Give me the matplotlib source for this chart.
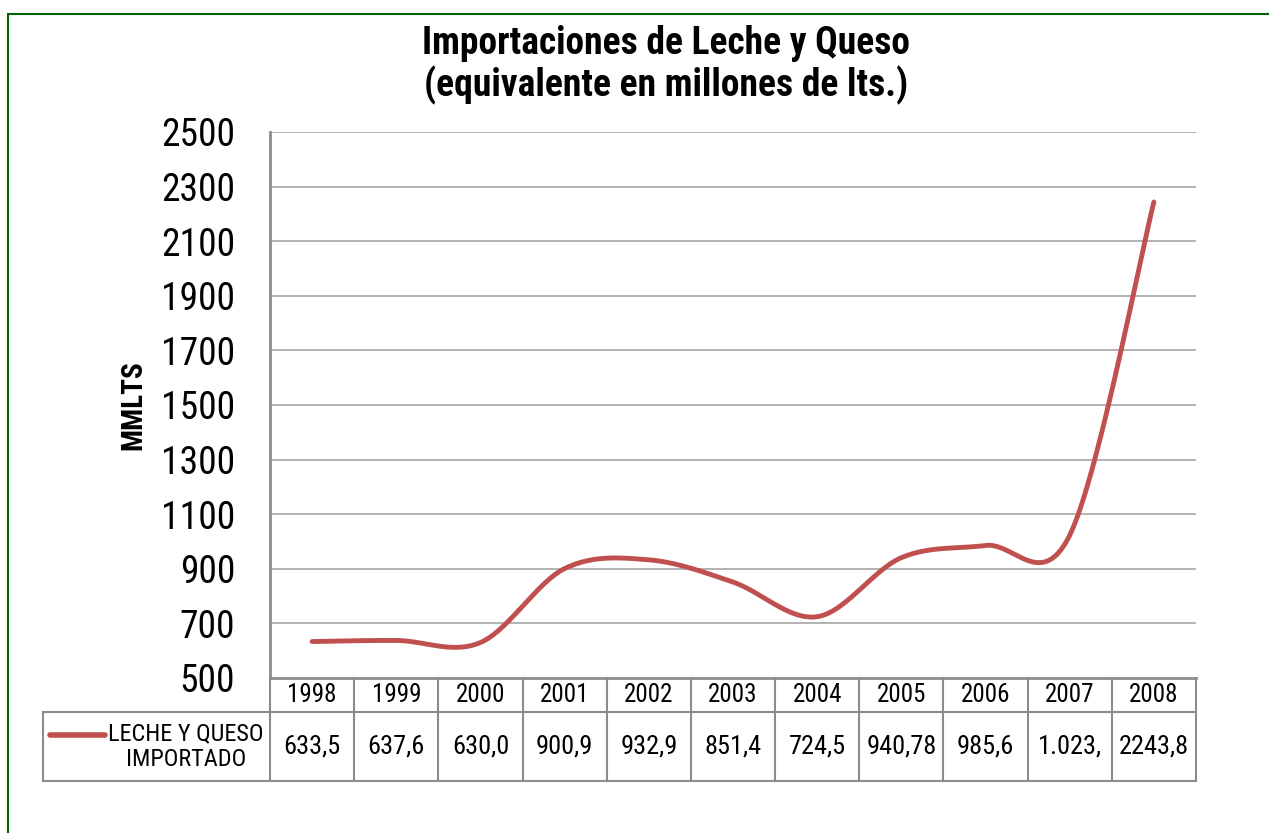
import matplotlib
matplotlib.use("Agg")
import matplotlib.pyplot as plt
from matplotlib import font_manager
from matplotlib.patches import Rectangle
import numpy as np

# fuente estrecha, la primera que haya
avail = set(f.name for f in font_manager.fontManager.ttflist)
narrow = None
for cand in ["Liberation Sans Narrow", "Roboto Condensed", "Open Sans Condensed", "Noto Sans Condensed",
             "Arial Narrow"]:
    if cand in avail:
        narrow = cand
        break
stretch = "normal"
if narrow is None:
    conds = [f for f in font_manager.fontManager.ttflist
             if str(f.stretch) in ("condensed", "semi-condensed", "extra-condensed", "75", "87")]
    if conds:
        narrow = conds[0].name
        stretch = "condensed"
    else:
        narrow = "Liberation Sans"
plt.rcParams['font.family'] = [narrow, 'DejaVu Sans']
plt.rcParams['font.stretch'] = stretch

# datos
years = ["1998", "1999", "2000", "2001", "2002", "2003", "2004", "2005", "2006", "2007", "2008"]
values = [633.5, 637.6, 630.0, 900.9, 932.9, 851.4, 724.5, 940.78, 985.6, 1023.0, 2243.8]
cell_text = ["633,5", "637,6", "630,0", "900,9", "932,9", "851,4", "724,5", "940,78", "985,6", "1.023,", "2243,8"]
series_name = "LECHE Y QUESO\nIMPORTADO"
yticks = list(range(500, 2501, 200))

red = "#C0504D"
grid = "#A6A6A6"
W, H = 1269, 833

fig = plt.figure(figsize=(W / 100, H / 100), dpi=100)
L, R, T, B = 270, 1196, 132, 678
ax = fig.add_axes([L / W, 1 - B / H, (R - L) / W, (B - T) / H])


# suavizado tipo Excel (bezier con vecinos)
def smooth(x, y, n=30):
    x = np.asarray(x, float)
    y = np.asarray(y, float)
    xs, ys = [], []
    for i in range(len(x) - 1):
        i0 = max(i - 1, 0)
        i3 = min(i + 2, len(x) - 1)
        p0 = np.array([x[i], y[i]])
        p3 = np.array([x[i + 1], y[i + 1]])
        c1 = p0 + (np.array([x[i + 1], y[i + 1]]) - np.array([x[i0], y[i0]])) / 6
        c2 = p3 - (np.array([x[i3], y[i3]]) - np.array([x[i], y[i]])) / 6
        t = np.linspace(0, 1, n)[:, None]
        pts = (1 - t) ** 3 * p0 + 3 * (1 - t) ** 2 * t * c1 + 3 * (1 - t) * t ** 2 * c2 + t ** 3 * p3
        xs.extend(pts[:, 0])
        ys.extend(pts[:, 1])
    return np.array(xs), np.array(ys)


xi = np.arange(len(years))
sx, sy = smooth(xi, values)
ax.plot(sx, sy, color=red, lw=3.5, solid_capstyle="round")

ax.set_xlim(-0.5, len(years) - 0.5)
ax.set_ylim(500, 2500)
ax.set_yticks(yticks)
ax.set_yticklabels([str(v) for v in yticks], fontsize=27)
ax.tick_params(axis="y", length=0, pad=25)
ax.set_xticks([])
for v in yticks[1:]:
    ax.axhline(v, color=grid, lw=1.2, zorder=0)
for s in ["top", "right", "bottom"]:
    ax.spines[s].set_visible(False)
ax.spines["left"].set_color("#8C8C8C")
ax.spines["left"].set_linewidth(2)
ax.set_ylabel("MMLTS", fontsize=21, fontweight="bold", labelpad=10)

# tabla de datos
h_px = B - T
w_px = R - L
hdr = -34 / h_px
row = -103 / h_px
leg_left = (43 - L) / w_px
tcol = "#8C8C8C"
tr = ax.transAxes
ax.plot([0, 1], [0, 0], color=tcol, lw=2, transform=tr, clip_on=False)
ax.plot([leg_left, 1], [hdr, hdr], color=tcol, lw=1.5, transform=tr, clip_on=False)
ax.plot([leg_left, 1], [row, row], color=tcol, lw=1.5, transform=tr, clip_on=False)
ax.plot([leg_left, leg_left], [hdr, row], color=tcol, lw=1.5, transform=tr, clip_on=False)
ax.plot([0, 0], [0, row], color=tcol, lw=1.5, transform=tr, clip_on=False)
n = len(years)
for k in range(1, n + 1):
    xb = k / n
    ax.plot([xb, xb], [0, row], color=tcol, lw=1.5, transform=tr, clip_on=False)
for k in range(n):
    xc = (k + 0.5) / n
    ax.text(xc, hdr / 2, years[k], transform=tr, ha="center", va="center", fontsize=18)
    ax.text(xc, (hdr + row) / 2, cell_text[k], transform=tr, ha="center", va="center", fontsize=19)

# clave de la leyenda
ax.plot([(50 - L) / w_px, (105 - L) / w_px], [(B - 735) / h_px] * 2, color=red, lw=4,
        solid_capstyle="round", transform=tr, clip_on=False)
ax.text((186 - L) / w_px, (hdr + row) / 2, series_name, transform=tr, ha="center", va="center",
        fontsize=17.5, linespacing=1.15)

# titulo
fig.text(666 / W, 1 - 65 / H, "Importaciones de Leche y Queso\n(equivalente en millones de lts.)",
         ha="center", va="center", fontsize=27, fontweight="bold", linespacing=1.12)

# borde verde
fig.patches.append(Rectangle((8 / W, -0.1), 1.2, 1 - 14 / H + 0.1, transform=fig.transFigure,
                             fill=False, edgecolor="#006400", lw=1.5))

fig.savefig("out.png", dpi=100)
